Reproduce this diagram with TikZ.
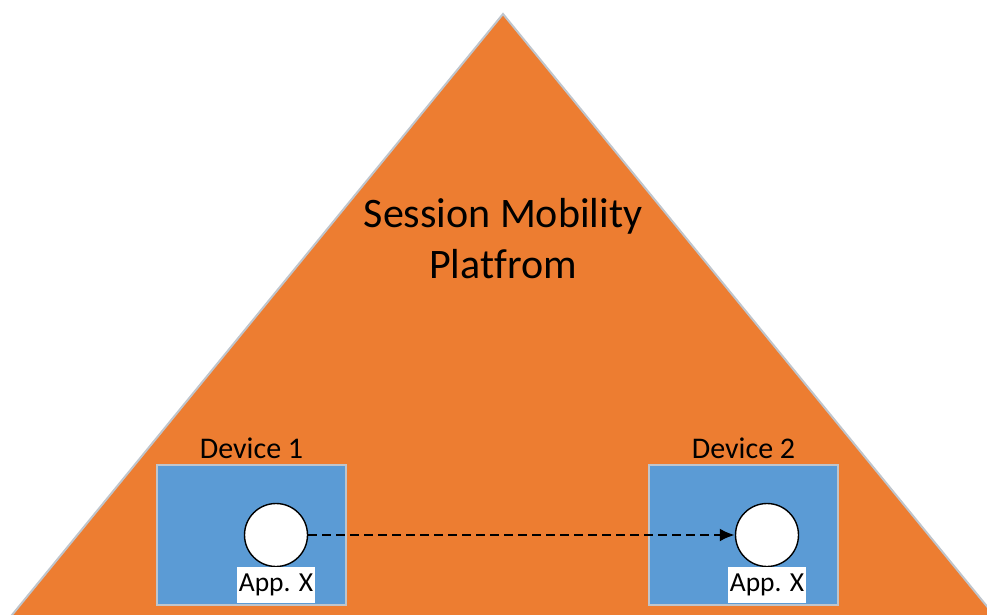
\documentclass[tikz,border=0pt]{standalone}
\usepackage{fontspec}
\setmainfont[Ligatures=NoCommon]{Carlito}
\usetikzlibrary{arrows.meta}
\definecolor{platorange}{HTML}{ED7D31}
\definecolor{devblue}{HTML}{5B9BD5}
\definecolor{edgegray}{HTML}{BFC5CC}
\tikzset{
  devbox/.style={draw=edgegray, line width=2pt, fill=devblue},
  app/.style={circle, draw=black, line width=1.4pt, fill=white, minimum size=63pt, inner sep=0pt},
  applabel/.style={fill=white, inner sep=0pt, minimum width=78pt, minimum height=36pt, font=\fontsize{27.5}{30}\selectfont},
  devlabel/.style={font=\fontsize{30}{32}\selectfont, anchor=base},
  flow/.style={dash pattern=on 9pt off 5pt, line width=2.6pt, -{Latex[length=15pt,width=13pt]}}
}
\begin{document}
\begin{tikzpicture}[x=1pt,y=-1pt]
\useasboundingbox (0,0) rectangle (987,615);
% platform triangle, its base running past the lower edge
\begin{scope}
\clip (0,0) rectangle (987,615);
\fill[platorange, draw=edgegray, line width=2pt] (503,14) -- (1003,626) -- (3,626) -- cycle;
\end{scope}
\node[font=\fontsize{42}{51}\selectfont, align=center, anchor=base] (plat) at (503,278) {Session Mobility\\Platfrom};
% devices
\draw[devbox] (157,465) rectangle (346,605);
\draw[devbox] (649,465) rectangle (838,605);
\node[devlabel] (l1) at (251.5,458) {Device 1};
\node[devlabel] (l2) at (743.5,458) {Device 2};
% applications
\node[app] (a1) at (276,535) {};
\node[app] (a2) at (767,535) {};
\node[applabel, anchor=north] (x1) at (276,567) {App. X};
\node[applabel, anchor=north] (x2) at (767,567) {App. X};
\draw[flow] (a1) -- (a2);
\end{tikzpicture}
\end{document}
